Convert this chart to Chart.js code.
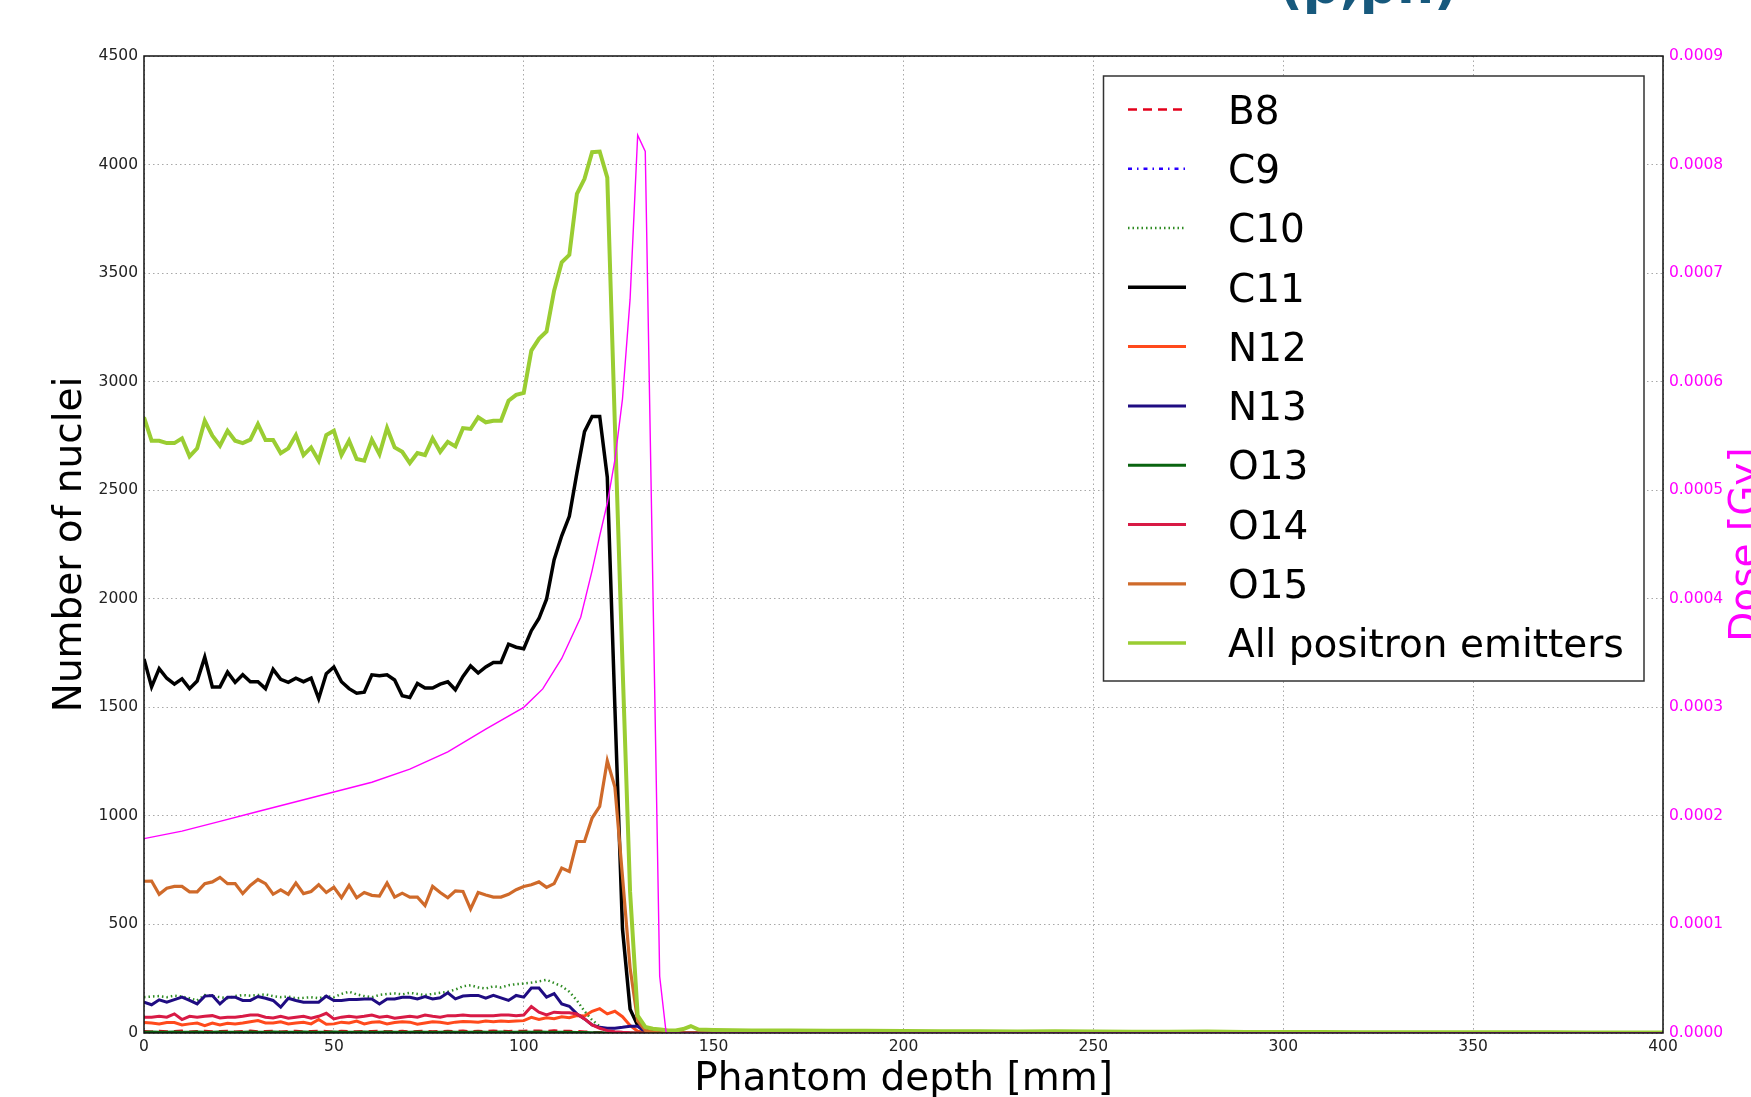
<!DOCTYPE html>
<html>
<head>
<meta charset="utf-8">
<title>Positron emitters vs phantom depth</title>
<script src="https://cdn.jsdelivr.net/npm/chart.js@4.4.0/dist/chart.umd.min.js"></script>
<style>
  html, body { margin: 0; padding: 0; background: #fff; overflow: hidden; }
  canvas { display: block; }
</style>
</head>
<body>
<canvas id="emitterChart" width="1751" height="1097"></canvas>
<script>
// depth bins [mm]: 2 mm up to 150, then read every 10 mm
const depth = [
  0, 2, 4, 6, 8, 10, 12, 14, 16, 18,
  20, 22, 24, 26, 28, 30, 32, 34, 36, 38,
  40, 42, 44, 46, 48, 50, 52, 54, 56, 58,
  60, 62, 64, 66, 68, 70, 72, 74, 76, 78,
  80, 82, 84, 86, 88, 90, 92, 94, 96, 98,
  100, 102, 104, 106, 108, 110, 112, 114, 116, 118,
  120, 122, 124, 126, 128, 130, 132, 134, 136, 138,
  140, 142, 144, 146, 148, 150,
  160, 170, 180, 190, 200, 210, 220, 230, 240, 250, 260, 270, 280,
  290, 300, 310, 320, 330, 340, 350, 360, 370, 380, 390, 400
];

const b8 = [
  8, 6, 9, 7, 8, 10, 6, 8, 9, 7,
  8, 9, 6, 8, 10, 7, 8, 9, 6, 8,
  9, 7, 8, 10, 8, 6, 9, 8, 7, 9,
  8, 10, 7, 8, 9, 6, 8, 9, 7, 8,
  9, 8, 10, 7, 9, 8, 10, 9, 8, 10,
  9, 11, 10, 9, 11, 10, 9, 8, 6, 4,
  3, 2, 1, 0, 0, 0, 0, 0, 0, 0,
  0, 0, 0, 0, 0, 0,
  0, 0, 0, 0, 0, 0, 0, 0, 0, 0, 0, 0, 0, 0, 0, 0, 0, 0, 0, 0, 0, 0, 0, 0, 0
];

const c9 = [
  1, 1, 0, 1, 1, 1, 0, 1, 1, 0,
  1, 1, 1, 0, 1, 1, 0, 1, 1, 1,
  0, 1, 1, 1, 0, 1, 1, 0, 1, 1,
  1, 0, 1, 1, 1, 0, 1, 1, 0, 1,
  1, 1, 0, 1, 1, 1, 1, 0, 1, 1,
  1, 1, 1, 1, 0, 1, 1, 0, 0, 0,
  0, 0, 0, 0, 0, 0, 0, 0, 0, 0,
  0, 0, 0, 0, 0, 0,
  0, 0, 0, 0, 0, 0, 0, 0, 0, 0, 0, 0, 0, 0, 0, 0, 0, 0, 0, 0, 0, 0, 0, 0, 0
];

const c10 = [
  165, 168, 170, 165, 172, 168, 160, 150, 175, 170,
  165, 160, 170, 175, 172, 175, 178, 170, 165, 168,
  160, 162, 165, 160, 170, 165, 180, 190, 178, 170,
  165, 175, 180, 182, 178, 185, 180, 175, 180, 185,
  190, 200, 215, 220, 210, 205, 215, 210, 220, 225,
  228, 232, 238, 245, 230, 215, 190, 150, 100, 60,
  30, 10, 4, 0, 0, 0, 0, 0, 0, 0,
  0, 0, 0, 0, 0, 0,
  0, 0, 0, 0, 0, 0, 0, 0, 0, 0, 0, 0, 0, 0, 0, 0, 0, 0, 0, 0, 0, 0, 0, 0, 0
];

const c11 = [
  1723, 1594, 1678, 1634, 1607, 1631, 1586, 1621, 1731, 1594,
  1594, 1662, 1615, 1650, 1618, 1618, 1586, 1675, 1629, 1615,
  1634, 1618, 1634, 1540, 1655, 1686, 1618, 1586, 1565, 1570,
  1650, 1646, 1650, 1626, 1553, 1545, 1610, 1589, 1589, 1607,
  1618, 1581, 1642, 1691, 1658, 1686, 1707, 1707, 1791, 1777,
  1770, 1853, 1909, 1998, 2180, 2290, 2380, 2580, 2770, 2840,
  2840, 2560, 1500, 480, 110, 35, 12, 5, 2, 0,
  0, 0, 0, 0, 0, 0,
  0, 0, 0, 0, 0, 0, 0, 0, 0, 0, 0, 0, 0, 0, 0, 0, 0, 0, 0, 0, 0, 0, 0, 0, 0
];

const n12 = [
  48, 46, 42, 48, 48, 37, 42, 46, 34, 46,
  37, 45, 42, 46, 52, 57, 46, 46, 52, 42,
  46, 49, 42, 62, 40, 42, 50, 46, 55, 42,
  49, 52, 42, 48, 52, 50, 40, 46, 52, 49,
  44, 50, 53, 52, 50, 55, 52, 55, 53, 55,
  57, 72, 62, 70, 66, 75, 70, 80, 78, 100,
  112, 88, 100, 75, 35, 8, 2, 0, 0, 0,
  0, 0, 0, 0, 0, 0,
  0, 0, 0, 0, 0, 0, 0, 0, 0, 0, 0, 0, 0, 0, 0, 0, 0, 0, 0, 0, 0, 0, 0, 0, 0
];

const n13 = [
  142, 130, 153, 142, 154, 165, 150, 134, 170, 173,
  134, 165, 165, 150, 150, 168, 160, 150, 119, 160,
  150, 142, 142, 142, 170, 150, 150, 154, 154, 157,
  157, 134, 157, 157, 165, 165, 157, 168, 157, 162,
  185, 157, 170, 173, 173, 160, 173, 162, 150, 173,
  165, 207, 207, 165, 181, 134, 123, 88, 65, 37,
  26, 22, 22, 26, 31, 31, 5, 0, 0, 0,
  0, 0, 0, 0, 0, 0,
  0, 0, 0, 0, 0, 0, 0, 0, 0, 0, 0, 0, 0, 0, 0, 0, 0, 0, 0, 0, 0, 0, 0, 0, 0
];

const o13 = [
  4, 5, 3, 4, 5, 4, 3, 5, 4, 4,
  5, 3, 4, 4, 5, 3, 4, 5, 4, 3,
  4, 5, 4, 3, 4, 5, 4, 4, 3, 5,
  4, 4, 5, 3, 4, 4, 5, 4, 3, 4,
  5, 4, 4, 3, 5, 4, 4, 5, 4, 4,
  5, 4, 5, 4, 4, 3, 3, 2, 2, 1,
  1, 0, 0, 0, 0, 0, 0, 0, 0, 0,
  0, 0, 0, 0, 0, 0,
  0, 0, 0, 0, 0, 0, 0, 0, 0, 0, 0, 0, 0, 0, 0, 0, 0, 0, 0, 0, 0, 0, 0, 0, 0
];

const o14 = [
  73, 73, 77, 73, 88, 62, 77, 73, 77, 80,
  69, 73, 73, 77, 83, 83, 73, 69, 77, 68,
  73, 77, 68, 77, 91, 65, 73, 77, 73, 77,
  83, 73, 77, 68, 73, 77, 73, 83, 77, 73,
  80, 80, 83, 80, 80, 80, 80, 83, 83, 80,
  83, 122, 96, 83, 96, 93, 93, 88, 65, 37,
  22, 11, 6, 3, 1, 0, 0, 0, 0, 0,
  0, 0, 0, 0, 0, 0,
  0, 0, 0, 0, 0, 0, 0, 0, 0, 0, 0, 0, 0, 0, 0, 0, 0, 0, 0, 0, 0, 0, 0, 0, 0
];

const o15 = [
  699, 700, 639, 667, 675, 675, 650, 650, 688, 696,
  717, 688, 688, 642, 680, 707, 688, 639, 659, 639,
  691, 642, 652, 683, 647, 671, 623, 680, 623, 647,
  634, 631, 691, 626, 644, 626, 626, 587, 675, 647,
  623, 655, 652, 571, 647, 636, 626, 626, 639, 660,
  675, 683, 696, 671, 688, 760, 744, 882, 882, 990,
  1044, 1254, 1133, 720, 300, 55, 12, 4, 0, 0,
  0, 0, 0, 0, 0, 0,
  0, 0, 0, 0, 0, 0, 0, 0, 0, 0, 0, 0, 0, 0, 0, 0, 0, 0, 0, 0, 0, 0, 0, 0, 0
];

const allEmitters = [
  2836, 2728, 2728, 2717, 2717, 2739, 2656, 2693, 2820, 2751,
  2705, 2774, 2728, 2717, 2733, 2805, 2731, 2731, 2671, 2693,
  2754, 2662, 2697, 2636, 2754, 2774, 2662, 2728, 2644, 2636,
  2733, 2666, 2787, 2697, 2677, 2625, 2671, 2662, 2739, 2677,
  2723, 2702, 2786, 2782, 2836, 2813, 2820, 2820, 2912, 2939,
  2948, 3143, 3197, 3231, 3419, 3550, 3584, 3865, 3934, 4057,
  4060, 3940, 2800, 1700, 650, 80, 28, 20, 16, 12,
  12, 18, 32, 16, 15, 14,
  12, 11, 10, 10, 9, 8, 8, 7, 8, 7, 6, 6, 7, 5, 5, 5, 4, 4, 4, 3, 3, 3, 2, 2, 2
];

// dose curve on the right axis [Gy]
const doseDepth = [0, 10, 20, 30, 40, 50, 60, 70, 80, 90, 100, 105, 110, 115, 118, 120,
  122, 124, 126, 128, 130, 132, 135.8, 137.5, 150, 200, 250, 300, 350, 400];
const dose = [0.000179, 0.000186, 0.000195, 0.000204, 0.000213, 0.000222, 0.000231,
  0.000243, 0.000259, 0.00028, 0.0003, 0.000317, 0.000345, 0.000383, 0.000426, 0.000458,
  0.000488, 0.000528, 0.000584, 0.000676, 0.000827, 0.000812, 0.000052, 0, 0, 0, 0, 0, 0, 0];

const fontFamily = '"DejaVu Sans", "Liberation Sans", sans-serif';

const series = [
  { label: 'B8', values: b8, color: '#e3001b', width: 2.5, dash: [9, 6] },
  { label: 'C9', values: c9, color: '#2a00ff', width: 2.5, dash: [4, 5, 1.5, 5] },
  { label: 'C10', values: c10, color: '#2e8b22', width: 2.5, dash: [1.5, 3] },
  { label: 'C11', values: c11, color: '#000000', width: 3.5, dash: [] },
  { label: 'N12', values: n12, color: '#ff4a1c', width: 3, dash: [] },
  { label: 'N13', values: n13, color: '#1f0c82', width: 3, dash: [] },
  { label: 'O13', values: o13, color: '#0a6410', width: 3, dash: [] },
  { label: 'O14', values: o14, color: '#d81a45', width: 3, dash: [] },
  { label: 'O15', values: o15, color: '#cf6a2a', width: 3.2, dash: [] },
  { label: 'All positron emitters', values: allEmitters, color: '#9acd32', width: 4, dash: [] }
];

const datasets = series.map((s, i) => ({
  label: s.label,
  data: depth.map((d, j) => ({ x: d, y: s.values[j] })),
  borderColor: s.color,
  backgroundColor: s.color,
  borderWidth: s.width,
  borderDash: s.dash,
  pointRadius: 0,
  tension: 0,
  yAxisID: 'y',
  order: series.length - i
}));

datasets.push({
  label: 'Dose',
  data: doseDepth.map((d, j) => ({ x: d, y: dose[j] })),
  borderColor: '#ff00ff',
  backgroundColor: '#ff00ff',
  borderWidth: 1.4,
  pointRadius: 0,
  tension: 0,
  yAxisID: 'y2',
  order: 0
});

// frame, boxed legend inside the plot, right axis title and the clipped heading
const overlay = {
  id: 'overlay',
  afterDraw(chart) {
    const ctx = chart.ctx;
    const a = chart.chartArea;
    ctx.save();

    ctx.strokeStyle = '#111';
    ctx.lineWidth = 1.5;
    ctx.setLineDash([]);
    ctx.strokeRect(a.left, a.top, a.right - a.left, a.bottom - a.top);

    const box = { left: 1103.5, top: 76, right: 1644, bottom: 681 };
    ctx.fillStyle = '#fff';
    ctx.fillRect(box.left, box.top, box.right - box.left, box.bottom - box.top);
    ctx.strokeStyle = '#333';
    ctx.lineWidth = 1.5;
    ctx.strokeRect(box.left, box.top, box.right - box.left, box.bottom - box.top);

    ctx.font = '39px ' + fontFamily;
    ctx.textAlign = 'left';
    ctx.textBaseline = 'alphabetic';
    series.forEach((s, i) => {
      const cy = 109.4 + i * 59.3;
      ctx.strokeStyle = s.color;
      ctx.lineWidth = Math.min(s.width, 3.5);
      ctx.setLineDash(s.dash);
      ctx.beginPath();
      ctx.moveTo(1128, cy);
      ctx.lineTo(1186, cy);
      ctx.stroke();
      ctx.setLineDash([]);
      ctx.fillStyle = '#000';
      ctx.fillText(s.label, 1228, cy + 14.2);
    });

    ctx.save();
    ctx.translate(1757, (a.top + a.bottom) / 2);
    ctx.rotate(-Math.PI / 2);
    ctx.textAlign = 'center';
    ctx.fillStyle = '#ff00ff';
    ctx.fillText('Dose [Gy]', 0, 0);
    ctx.restore();

    ctx.font = 'bold 52px ' + fontFamily;
    ctx.fillStyle = '#17597d';
    ctx.textAlign = 'left';
    ctx.fillText('(p,pn)', 1279, 2.5);

    ctx.restore();
  }
};

const tickFont = { family: fontFamily, size: 15.5 };
const gridStyle = { color: '#a8a8a8', lineWidth: 1, drawTicks: false };

new Chart(document.getElementById('emitterChart'), {
  type: 'line',
  data: { datasets: datasets },
  options: {
    responsive: false,
    animation: false,
    layout: { padding: { top: 56, left: 0, right: 0, bottom: 0 } },
    plugins: {
      legend: { display: false },
      tooltip: { enabled: false }
    },
    scales: {
      x: {
        type: 'linear',
        min: 0,
        max: 400,
        ticks: {
          stepSize: 50, color: '#222', font: tickFont, padding: 5, maxRotation: 0, autoSkip: false,
          callback: (v) => String(v)
        },
        grid: gridStyle,
        border: { display: false, dash: [1.5, 3] },
        title: {
          display: true,
          text: 'Phantom depth [mm]',
          color: '#000',
          font: { family: fontFamily, size: 39, lineHeight: 0.9 },
          padding: { top: 0, bottom: 0 }
        },
        afterFit: (scale) => { scale.height = 64; }
      },
      y: {
        position: 'left',
        min: 0,
        max: 4500,
        ticks: {
          stepSize: 500, color: '#222', font: tickFont, padding: 6, autoSkip: false,
          callback: (v) => String(v)
        },
        grid: gridStyle,
        border: { display: false, dash: [1.5, 3] },
        title: {
          display: true,
          text: 'Number of nuclei',
          color: '#000',
          font: { family: fontFamily, size: 39, lineHeight: 1 },
          padding: { top: 51.5, bottom: 0 }
        },
        afterFit: (scale) => { scale.width = 144; }
      },
      y2: {
        position: 'right',
        min: 0,
        max: 0.0009,
        ticks: {
          stepSize: 0.0001,
          color: '#ff00ff',
          font: tickFont,
          padding: 6,
          autoSkip: false,
          callback: (v) => v.toFixed(4)
        },
        grid: { display: false, drawTicks: false },
        border: { display: false },
        afterFit: (scale) => { scale.width = 88; }
      }
    }
  },
  plugins: [overlay]
});
</script>
</body>
</html>
